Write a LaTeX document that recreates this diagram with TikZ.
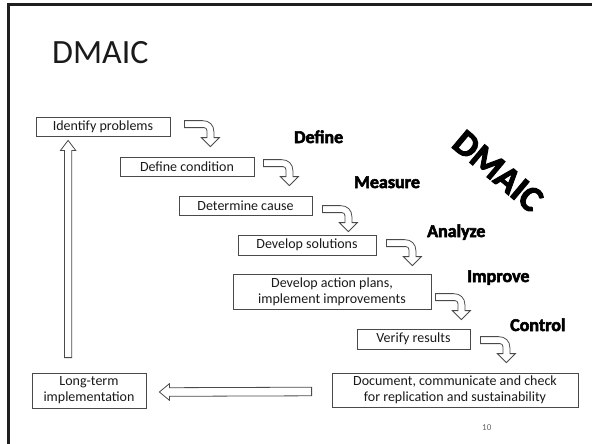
\documentclass[tikz,border=0pt]{standalone}
\usepackage{fontspec}
\setmainfont{Carlito}
\newfontfamily\heavyfont[FakeBold=3]{Carlito Bold}
\usetikzlibrary{calc}

\definecolor{ink}{HTML}{1A1A1A}
\definecolor{edge}{HTML}{4A4A4A}

\tikzset{
  stepbox/.style={draw=edge, line width=0.8pt, fill=white, inner sep=0pt,
    align=center, text=ink, font=\fontsize{14}{16}\selectfont},
  hollow/.style={draw=edge, line width=0.8pt, fill=white, line join=miter},
  phase/.style={anchor=base west, inner sep=0pt, text=black,
    font=\heavyfont\fontsize{18}{20}\selectfont},
  bent/.pic={
    \path[hollow] (0,0) -- (18,0) .. controls (25,0) and (29.5,4.5) .. (29.5,11)
      -- (29.5,17) -- (35,17) -- (26,26) -- (17,17) -- (22.5,17) -- (22.5,10)
      .. controls (22.5,8.2) and (21.3,7) .. (19.5,7) -- (0,7) -- cycle;
  }
}

\begin{document}
\begin{tikzpicture}[x=1pt, y=-1pt]
  \useasboundingbox[fill=white] (0,0) rectangle (592,444);

  % slide frame (top and left edges)
  \draw[line width=2.6pt, black!88, line cap=rect] (8.6,444) -- (8.6,4.6) -- (592,4.6);

  % title
  \node[anchor=base west, inner sep=0pt, text=ink, font=\fontsize{34}{40}\selectfont]
    (title) at (52,64) {DMAIC};

  % process steps
  \node[stepbox, minimum width=134pt, minimum height=19pt] (b1) at (103,126.5) {Identify problems};
  \node[stepbox, minimum width=134pt, minimum height=19pt] (b2) at (187,166.5) {Define condition};
  \node[stepbox, minimum width=133pt, minimum height=19pt] (b3) at (245.5,205.5) {Determine cause};
  \node[stepbox, minimum width=138pt, minimum height=20pt] (b4) at (307,245) {Develop solutions};
  \node[stepbox, minimum width=198pt, minimum height=35pt] (b5) at (332,291.5)
    {Develop action plans,\\implement improvements};
  \node[stepbox, minimum width=113pt, minimum height=20pt] (b6) at (413.5,339) {Verify results};
  \node[stepbox, minimum width=246pt, minimum height=34pt] (b7) at (455,390)
    {Document, communicate and check\\for replication and sustainability};
  \node[stepbox, minimum width=114pt, minimum height=35pt] (b8) at (89,390.5)
    {Long-term\\implementation};

  % bent arrows between the steps
  \pic at ($(b1.north east)+(14,4)$) {bent};
  \pic at ($(b2.north east)+(9,3)$) {bent};
  \pic at ($(b3.north east)+(10,10)$) {bent};
  \pic at ($(b4.north east)+(10,5)$) {bent};
  \pic at ($(b5.north east)+(4,20)$) {bent};
  \pic at ($(b6.north east)+(10,8)$) {bent};

  % long arrow back to the left
  \coordinate (ls) at ($(b7.west)+(-20,1.5)$);
  \coordinate (lt) at ($(b8.east)+(13,1.5)$);
  \path[hollow] ($(ls)+(0,-4.3)$) -- ($(lt)+(10,-4.3)$) -- ($(lt)+(10,-8.3)$) -- (lt)
    -- ($(lt)+(10,8.3)$) -- ($(lt)+(10,4.3)$) -- ($(ls)+(0,4.3)$) -- cycle;

  % upward arrow closing the loop
  \coordinate (us) at ($(b8.north west)+(36.5,-15)$);
  \coordinate (ut) at ($(b1.south west)+(32.5,4)$);
  \path[hollow] ($(us)+(-3.6,0)$) -- ($(ut)+(-3.6,10)$) -- ($(ut)+(-7.6,10)$) -- (ut)
    -- ($(ut)+(7.6,10)$) -- ($(ut)+(3.6,10)$) -- ($(us)+(3.6,0)$) -- cycle;

  % phase names
  \node[phase] (define)  at (294,143) {Define};
  \node[phase] (measure) at (354,188) {Measure};
  \node[phase] (analyze) at (427,237) {Analyze};
  \node[phase] (improve) at (467,282) {Improve};
  \node[phase] (control) at (510,331) {Control};

  \node[inner sep=0pt, rotate=-40, text=black, font=\heavyfont\fontsize{36}{40}\selectfont]
    (big) at (498,171) {DMAIC};

  % slide number
  \node[anchor=base west, inner sep=0pt, text=black!60, font=\fontsize{9}{10}\selectfont]
    (num) at (482,430.5) {10};
\end{tikzpicture}
\end{document}
